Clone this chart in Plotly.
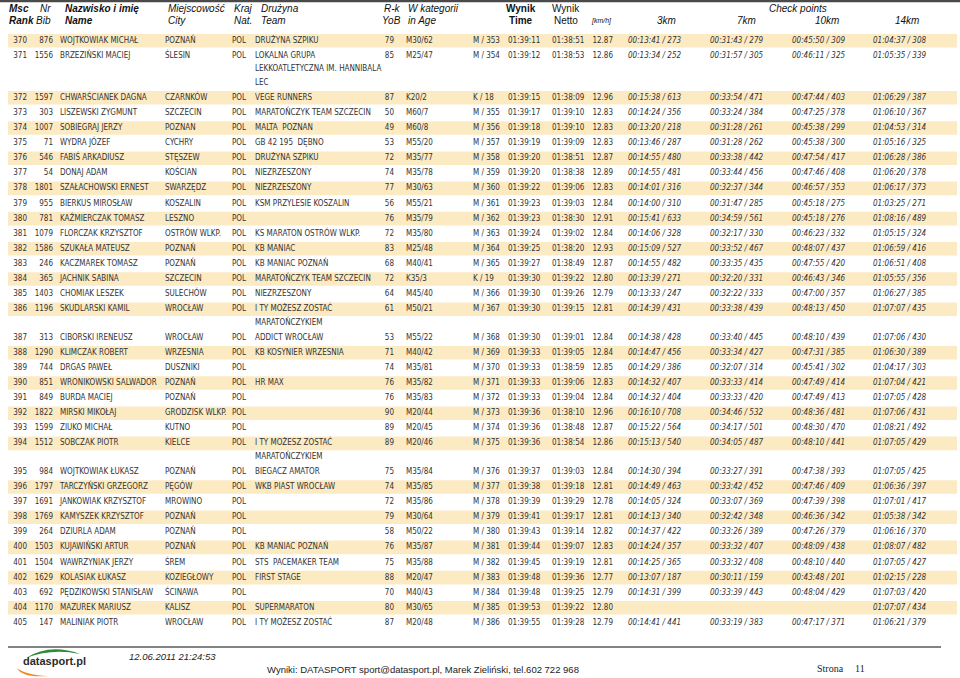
import plotly.graph_objects as go

# ---------------- data ----------------
rank = [370, 371, 372, 373, 374, 375, 376, 377, 378, 379, 380, 381, 382, 383, 384, 385, 386, 387,
        388, 389, 390, 391, 392, 393, 394, 395, 396, 397, 398, 399, 400, 401, 402, 403, 404, 405]
bib = [876, 1556, 1597, 303, 1007, 71, 546, 54, 1801, 955, 781, 1079, 1586, 246, 365, 1403, 1196, 313,
       1290, 744, 851, 849, 1822, 1599, 1512, 984, 1797, 1691, 1769, 264, 1503, 1504, 1629, 692, 1170, 147]
names = ["WOJTKOWIAK MICHAŁ", "BRZEZIŃSKI MACIEJ", "CHWARŚCIANEK DAGNA", "LISZEWSKI ZYGMUNT",
         "SOBIEGRAJ JERZY", "WYDRA JÓZEF", "FABIŚ ARKADIUSZ", "DONAJ ADAM", "SZAŁACHOWSKI ERNEST",
         "BIERKUS MIROSŁAW", "KAŹMIERCZAK TOMASZ", "FLORCZAK KRZYSZTOF", "SZUKAŁA MATEUSZ",
         "KACZMAREK TOMASZ", "JACHNIK SABINA", "CHOMIAK LESZEK", "SKUDLARSKI KAMIL", "CIBORSKI IRENEUSZ",
         "KLIMCZAK ROBERT", "DRGAS PAWEŁ", "WRONIKOWSKI SALWADOR", "BURDA MACIEJ", "MIRSKI MIKOŁAJ",
         "ZIUKO MICHAŁ", "SOBCZAK PIOTR", "WOJTKOWIAK ŁUKASZ", "TARCZYŃSKI GRZEGORZ", "JANKOWIAK KRZYSZTOF",
         "KAMYSZEK KRZYSZTOF", "DZIURLA ADAM", "KUJAWIŃSKI ARTUR", "WAWRZYNIAK JERZY", "KOLASIAK ŁUKASZ",
         "PĘDZIKOWSKI STANISŁAW", "MAZUREK MARIUSZ", "MALINIAK PIOTR"]
cities = ["POZNAŃ", "ŚLESIN", "CZARNKÓW", "SZCZECIN", "POZNAN", "CYCHRY", "STĘSZEW", "KOŚCIAN", "SWARZĘDZ",
          "KOSZALIN", "LESZNO", "OSTRÓW WLKP.", "POZNAŃ", "POZNAŃ", "SZCZECIN", "SULECHÓW", "WROCŁAW",
          "WROCŁAW", "WRZESNIA", "DUSZNIKI", "POZNAŃ", "POZNAŃ", "GRODZISK WLKP.", "KUTNO", "KIELCE", "POZNAŃ",
          "PĘGÓW", "MROWINO", "POZNAŃ", "POZNAŃ", "POZNAŃ", "ŚREM", "KOZIEGŁOWY", "ŚCINAWA", "KALISZ", "WROCŁAW"]
nat = ["POL", "POL", "POL", "POL", "POL", "POL", "POL", "POL", "POL", "POL", "POL", "POL",
       "POL", "POL", "POL", "POL", "POL", "POL", "POL", "POL", "POL", "POL", "POL", "POL",
       "POL", "POL", "POL", "POL", "POL", "POL", "POL", "POL", "POL", "POL", "POL", "POL"]
teams = ["DRUŻYNA SZPIKU", "LOKALNA GRUPA\nLEKKOATLETYCZNA IM. HANNIBALA\nLEC", "VEGE RUNNERS",
         "MARATOŃCZYK TEAM SZCZECIN", "MALTA  POZNAN", "GB 42 195  DĘBNO", "DRUŻYNA SZPIKU", "NIEZRZESZONY",
         "NIEZRZESZONY", "KSM PRZYLESIE KOSZALIN", "", "KS MARATON OSTRÓW WLKP.", "KB MANIAC",
         "KB MANIAC POZNAŃ", "MARATOŃCZYK TEAM SZCZECIN", "NIEZRZESZONY", "I TY MOŻESZ ZOSTAĆ\nMARATOŃCZYKIEM",
         "ADDICT WROCŁAW", "KB KOSYNIER WRZESNIA", "", "HR MAX", "", "", "", "I TY MOŻESZ ZOSTAĆ\nMARATOŃCZYKIEM",
         "BIEGACZ AMATOR", "WKB PIAST WROCŁAW", "", "", "", "KB MANIAC POZNAŃ", "STS  PACEMAKER TEAM",
         "FIRST STAGE", "", "SUPERMARATON", "I TY MOŻESZ ZOSTAĆ"]
yob = [79, 85, 87, 50, 49, 53, 72, 74, 77, 56, 76, 72, 83, 68, 72, 64, 61, 53,
       71, 74, 76, 76, 90, 89, 89, 75, 74, 72, 79, 58, 76, 75, 88, 70, 80, 87]
category = ["M30/62", "M25/47", "K20/2", "M60/7", "M60/8", "M55/20", "M35/77", "M35/78", "M30/63", "M55/21",
            "M35/79", "M35/80", "M25/48", "M40/41", "K35/3", "M45/40", "M50/21", "M55/22", "M40/42", "M35/81",
            "M35/82", "M35/83", "M20/44", "M20/45", "M20/46", "M35/84", "M35/85", "M35/86", "M30/64", "M50/22",
            "M35/87", "M35/88", "M20/47", "M40/43", "M30/65", "M20/48"]
gender_place = ["M / 353", "M / 354", "K / 18", "M / 355", "M / 356", "M / 357", "M / 358", "M / 359",
                "M / 360", "M / 361", "M / 362", "M / 363", "M / 364", "M / 365", "K / 19", "M / 366",
                "M / 367", "M / 368", "M / 369", "M / 370", "M / 371", "M / 372", "M / 373", "M / 374",
                "M / 375", "M / 376", "M / 377", "M / 378", "M / 379", "M / 380", "M / 381", "M / 382",
                "M / 383", "M / 384", "M / 385", "M / 386"]
time_gross = ["01:39:11", "01:39:12", "01:39:15", "01:39:17", "01:39:18", "01:39:19", "01:39:20", "01:39:20",
              "01:39:22", "01:39:23", "01:39:23", "01:39:24", "01:39:25", "01:39:27", "01:39:30", "01:39:30",
              "01:39:30", "01:39:30", "01:39:33", "01:39:33", "01:39:33", "01:39:33", "01:39:36", "01:39:36",
              "01:39:36", "01:39:37", "01:39:38", "01:39:39", "01:39:41", "01:39:43", "01:39:44", "01:39:45",
              "01:39:48", "01:39:48", "01:39:53", "01:39:55"]
time_net = ["01:38:51", "01:38:53", "01:38:09", "01:39:10", "01:39:10", "01:39:09", "01:38:51", "01:38:38",
            "01:39:06", "01:39:03", "01:38:30", "01:39:02", "01:38:20", "01:38:49", "01:39:22", "01:39:26",
            "01:39:15", "01:39:01", "01:39:05", "01:38:59", "01:39:06", "01:39:04", "01:38:10", "01:38:48",
            "01:38:54", "01:39:03", "01:39:18", "01:39:29", "01:39:17", "01:39:14", "01:39:07", "01:39:19",
            "01:39:36", "01:39:25", "01:39:22", "01:39:28"]
speed = ["12.87", "12.86", "12.96", "12.83", "12.83", "12.83", "12.87", "12.89", "12.83", "12.84", "12.91",
         "12.84", "12.93", "12.87", "12.80", "12.79", "12.81", "12.84", "12.84", "12.85", "12.83", "12.84",
         "12.96", "12.87", "12.86", "12.84", "12.81", "12.78", "12.81", "12.82", "12.83", "12.81", "12.77",
         "12.79", "12.80", "12.79"]
cp_3km = ["00:13:41 / 273", "00:13:34 / 252", "00:15:38 / 613", "00:14:24 / 356", "00:13:20 / 218",
          "00:13:46 / 287", "00:14:55 / 480", "00:14:55 / 481", "00:14:01 / 316", "00:14:00 / 310",
          "00:15:41 / 633", "00:14:06 / 328", "00:15:09 / 527", "00:14:55 / 482", "00:13:39 / 271",
          "00:13:33 / 247", "00:14:39 / 431", "00:14:38 / 428", "00:14:47 / 456", "00:14:29 / 386",
          "00:14:32 / 407", "00:14:32 / 404", "00:16:10 / 708", "00:15:22 / 564", "00:15:13 / 540",
          "00:14:30 / 394", "00:14:49 / 463", "00:14:05 / 324", "00:14:13 / 340", "00:14:37 / 422",
          "00:14:24 / 357", "00:14:25 / 365", "00:13:07 / 187", "00:14:31 / 399", "", "00:14:41 / 441"]
cp_7km = ["00:31:43 / 279", "00:31:57 / 305", "00:33:54 / 471", "00:33:24 / 384", "00:31:28 / 261",
          "00:31:28 / 262", "00:33:38 / 442", "00:33:44 / 456", "00:32:37 / 344", "00:31:47 / 285",
          "00:34:59 / 561", "00:32:17 / 330", "00:33:52 / 467", "00:33:35 / 435", "00:32:20 / 331",
          "00:32:22 / 333", "00:33:38 / 439", "00:33:40 / 445", "00:33:34 / 427", "00:32:07 / 314",
          "00:33:33 / 414", "00:33:33 / 420", "00:34:46 / 532", "00:34:17 / 501", "00:34:05 / 487",
          "00:33:27 / 391", "00:33:42 / 452", "00:33:07 / 369", "00:32:42 / 348", "00:33:26 / 389",
          "00:33:32 / 407", "00:33:32 / 408", "00:30:11 / 159", "00:33:39 / 443", "", "00:33:19 / 383"]
cp_10km = ["00:45:50 / 309", "00:46:11 / 325", "00:47:44 / 403", "00:47:25 / 378", "00:45:38 / 299",
           "00:45:38 / 300", "00:47:54 / 417", "00:47:46 / 408", "00:46:57 / 353", "00:45:18 / 275",
           "00:45:18 / 276", "00:46:23 / 332", "00:48:07 / 437", "00:47:55 / 420", "00:46:43 / 346",
           "00:47:00 / 357", "00:48:13 / 450", "00:48:10 / 439", "00:47:31 / 385", "00:45:41 / 302",
           "00:47:49 / 414", "00:47:49 / 413", "00:48:36 / 481", "00:48:30 / 470", "00:48:10 / 441",
           "00:47:38 / 393", "00:47:46 / 409", "00:47:39 / 398", "00:46:36 / 342", "00:47:26 / 379",
           "00:48:09 / 438", "00:48:10 / 440", "00:43:48 / 201", "00:48:04 / 429", "", "00:47:17 / 371"]
cp_14km = ["01:04:37 / 308", "01:05:35 / 339", "01:06:29 / 387", "01:06:10 / 367", "01:04:53 / 314",
           "01:05:16 / 325", "01:06:28 / 386", "01:06:20 / 378", "01:06:17 / 373", "01:03:25 / 271",
           "01:08:16 / 489", "01:05:15 / 324", "01:06:59 / 416", "01:06:51 / 408", "01:05:55 / 356",
           "01:06:27 / 385", "01:07:07 / 435", "01:07:06 / 430", "01:06:30 / 389", "01:04:17 / 303",
           "01:07:04 / 421", "01:07:05 / 428", "01:07:06 / 431", "01:08:21 / 492", "01:07:05 / 429",
           "01:07:05 / 425", "01:06:36 / 397", "01:07:01 / 417", "01:05:38 / 342", "01:06:16 / 370",
           "01:08:07 / 482", "01:07:05 / 427", "01:02:15 / 228", "01:07:03 / 420", "01:07:07 / 434",
           "01:06:21 / 379"]

header_top = ["Msc", "Nr", "Nazwisko i imię", "Miejscowość", "Kraj", "Drużyna", "R-k", "W kategorii",
              "Wynik", "Wynik", "Check points"]
header_bottom = ["Rank", "Bib", "Name", "City", "Nat.", "Team", "YoB", "in Age", "Time", "Netto", "[km/h]",
                 "3km", "7km", "10km", "14km"]
print_date = "12.06.2011 21:24:53"
footer_text = "Wyniki: DATASPORT sport@datasport.pl, Marek Zieliński, tel.602 722 968"
page_label = "Strona"
page_number = "11"
logo_text = "datasport.pl"

# ---------------- layout / styling ----------------
W, H = 960, 678
DATA_FONT = "DejaVu Sans Condensed, Liberation Sans Narrow, Arial Narrow, sans-serif"
HEAD_FONT = "Liberation Sans, Arial, Helvetica, sans-serif"
SERIF = "Liberation Serif, Times New Roman, serif"
TXT = "#333333"
BAND = "#FCEAC3"
DATA_SIZE = 8

Y0, STEP, EXTRA = 40.8, 15.1, 13.4
row_y, team_txt, team_y = [], [], []
y = Y0
for t in teams:
    row_y.append(y)
    parts = t.split("\n")
    for k, p in enumerate(parts):
        team_txt.append(p)
        team_y.append(y + k * EXTRA)
    y += STEP + EXTRA * (len(parts) - 1)

fig = go.Figure()

shapes = []
for i in range(0, len(row_y), 2):
    shapes.append(dict(type="rect", xref="x", yref="y", x0=8, x1=957, y0=row_y[i] - 6.8, y1=row_y[i] + 6.8,
                       fillcolor=BAND, line=dict(width=0), layer="below"))
shapes.append(dict(type="line", xref="x", yref="y", x0=0, x1=960, y0=1, y1=1,
                   line=dict(color="#4a4a4a", width=2.5)))
shapes.append(dict(type="line", xref="x", yref="y", x0=8, x1=941, y0=647, y1=647,
                   line=dict(color="#5a5a5a", width=1.5)))
# logo swooshes
shapes.append(dict(type="path", xref="x", yref="y",
                   path="M 26 658 Q 50 643 80 654 Q 52 648 26 658 Z",
                   fillcolor="#2e8b3a", line=dict(width=0)))
shapes.append(dict(type="path", xref="x", yref="y",
                   path="M 17 668 Q 22 678 48 676 Q 26 675 17 668 Z",
                   fillcolor="#ee8a1f", line=dict(width=0)))

columns = [
    (rank, row_y, 27, "right", "normal"),
    (bib, row_y, 53, "right", "normal"),
    (names, row_y, 60, "left", "normal"),
    (cities, row_y, 165, "left", "normal"),
    (nat, row_y, 232, "left", "normal"),
    (team_txt, team_y, 255, "left", "normal"),
    (yob, row_y, 394, "right", "normal"),
    (category, row_y, 406, "left", "normal"),
    (gender_place, row_y, 473, "left", "normal"),
    (time_gross, row_y, 508, "left", "normal"),
    (time_net, row_y, 552, "left", "normal"),
    (speed, row_y, 613, "right", "normal"),
    (cp_3km, row_y, 628, "left", "italic"),
    (cp_7km, row_y, 710, "left", "italic"),
    (cp_10km, row_y, 792, "left", "italic"),
    (cp_14km, row_y, 873, "left", "italic"),
]
for vals, ys, xpos, align, style in columns:
    fig.add_trace(go.Scatter(
        x=[xpos] * len(vals), y=ys, mode="text", text=[str(v) for v in vals],
        textposition="middle right" if align == "left" else "middle left",
        textfont=dict(family=DATA_FONT, size=DATA_SIZE, color=TXT, style=style),
        hoverinfo="skip", showlegend=False, cliponaxis=False))

# header positions / styles (x, anchor, weight, style)
top_fmt = [(7, "left", "bold", "italic"), (53, "right", "normal", "italic"), (63, "left", "bold", "italic"),
           (166, "left", "normal", "italic"), (232, "left", "normal", "italic"), (259, "left", "normal", "italic"),
           (403, "right", "normal", "italic"), (406, "left", "normal", "italic"), (521, "center", "bold", "normal"),
           (566, "center", "normal", "normal"), (798, "center", "normal", "italic")]
bot_fmt = [(7, "left", "bold", "italic"), (53, "right", "normal", "italic"), (63, "left", "bold", "italic"),
           (166, "left", "normal", "italic"), (232, "left", "normal", "italic"), (259, "left", "normal", "italic"),
           (403, "right", "normal", "italic"), (406, "left", "normal", "italic"), (521, "center", "bold", "normal"),
           (566, "center", "normal", "normal"), (601, "center", "normal", "italic"),
           (666, "center", "normal", "italic"), (746, "center", "normal", "italic"),
           (827, "center", "normal", "italic"), (907, "center", "normal", "italic")]

annotations = []
for txt, (xp, anc, wt, st) in zip(header_top, top_fmt):
    annotations.append(dict(x=xp, y=8, xref="x", yref="y", text=txt, showarrow=False, xanchor=anc,
                            yanchor="middle", font=dict(family=HEAD_FONT, size=10, color="#111",
                                                        weight=wt, style=st)))
for txt, (xp, anc, wt, st) in zip(header_bottom, bot_fmt):
    size = 7 if txt.startswith("[") else 10
    yy = 21 if txt.startswith("[") else 20
    annotations.append(dict(x=xp, y=yy, xref="x", yref="y", text=txt, showarrow=False, xanchor=anc,
                            yanchor="middle", font=dict(family=HEAD_FONT, size=size, color="#111",
                                                        weight=wt, style=st)))
annotations += [
    dict(x=21, y=661, xref="x", yref="y", text=logo_text, showarrow=False, xanchor="left", yanchor="middle",
         font=dict(family=HEAD_FONT, size=11, color="#2b2b2b", weight="bold")),
    dict(x=127, y=656, xref="x", yref="y", text=print_date, showarrow=False, xanchor="left", yanchor="middle",
         font=dict(family=HEAD_FONT, size=9.5, color="#222", style="italic")),
    dict(x=265, y=669, xref="x", yref="y", text=footer_text, showarrow=False, xanchor="left", yanchor="middle",
         font=dict(family=HEAD_FONT, size=9.5, color="#222")),
    dict(x=815, y=668, xref="x", yref="y", text=page_label, showarrow=False, xanchor="left", yanchor="middle",
         font=dict(family=SERIF, size=10, color="#222")),
    dict(x=853, y=668, xref="x", yref="y", text=page_number, showarrow=False, xanchor="left", yanchor="middle",
         font=dict(family=SERIF, size=10, color="#222")),
]

fig.update_layout(
    width=W, height=H, margin=dict(l=0, r=0, t=0, b=0),
    paper_bgcolor="white", plot_bgcolor="white",
    xaxis=dict(range=[0, W], visible=False, fixedrange=True),
    yaxis=dict(range=[H, 0], visible=False, fixedrange=True),
    shapes=shapes, annotations=annotations, showlegend=False,
)

fig.write_html("out.html", config={"displayModeBar": False},
               post_script="document.body.style.margin='0';document.body.style.overflow='hidden';")
